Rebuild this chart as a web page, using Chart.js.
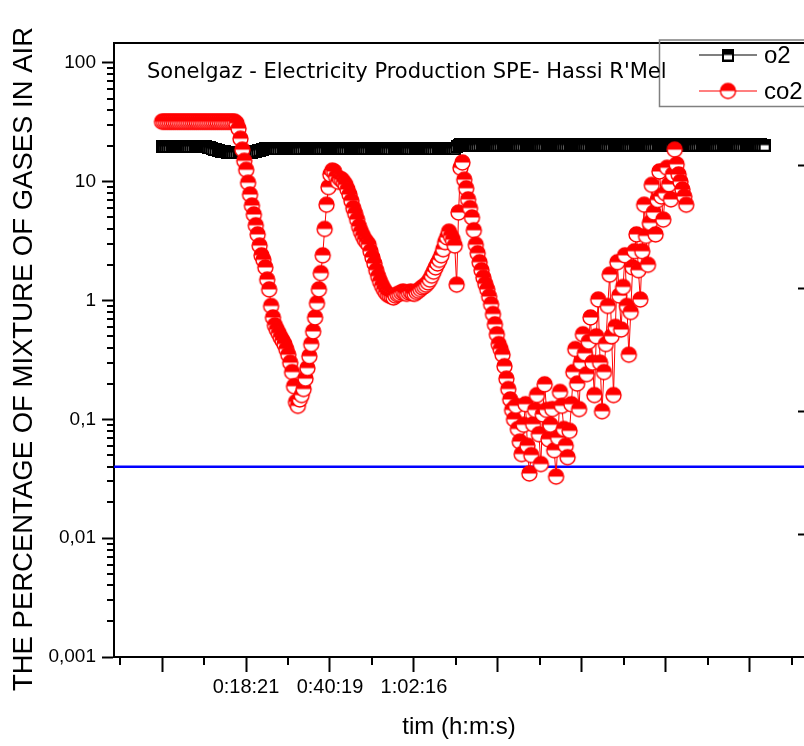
<!DOCTYPE html>
<html>
<head>
<meta charset="utf-8">
<script src="https://cdn.jsdelivr.net/npm/chart.js@4.4.1/dist/chart.umd.min.js"></script>
<style>
  html, body { margin: 0; padding: 0; background: #fff; overflow: hidden; }
  canvas { display: block; }
</style>
</head>
<body>
<canvas id="gasChart" width="804" height="746"></canvas>
<script>
// Logger readings, one every 30 s from the start of the record
const SAMPLE_STEP_S = 30;

// O2 (%)
const o2Values = [
  19.8,19.8,19.8,19.8,19.8,19.8,19.8,19.8,19.8,19.8,
  19.8,19.8,19.8,19.8,19.8,19.8,19.8,19.8,19.8,19.8,
  19.8,19.8,19.8,19.8,19.5,19.3,19.0,18.8,18.6,18.4,
  18.2,18.0,17.9,17.8,17.7,17.6,17.6,17.6,17.6,17.6,
  17.6,17.6,17.6,17.6,17.6,17.6,17.6,17.7,17.8,18.0,
  18.2,18.4,18.6,18.8,19.0,19.1,18.9,19.0,19.0,19.1,
  19.0,18.9,19.0,19.1,19.0,19.0,18.9,19.0,19.1,19.0,
  19.0,18.9,19.0,19.0,19.1,19.0,18.9,19.0,19.0,19.1,
  19.0,19.0,18.9,19.0,19.1,19.0,19.0,18.9,19.0,19.0,
  19.1,19.0,18.9,19.0,19.0,19.1,19.0,19.0,18.9,19.0,
  19.0,19.1,19.0,18.9,19.0,19.0,19.1,19.0,19.0,18.9,
  19.0,19.1,19.0,19.0,18.9,19.0,19.0,19.1,19.0,19.0,
  18.9,19.0,19.1,19.0,19.0,18.9,19.0,19.0,19.1,19.0,
  19.0,18.9,19.0,19.1,19.0,19.0,18.9,19.0,19.0,19.1,
  19.0,19.0,18.9,19.0,19.1,19.0,19.0,18.9,19.0,19.0,
  19.1,19.0,19.0,19.0,19.8,20.3,20.4,20.3,20.2,20.3,
  20.3,20.4,20.3,20.3,20.2,20.3,20.4,20.3,20.3,20.2,
  20.3,20.3,20.4,20.3,20.2,20.3,20.3,20.4,20.3,20.3,
  20.2,20.3,20.4,20.3,20.3,20.2,20.3,20.3,20.4,20.3,
  20.3,20.2,20.3,20.4,20.3,20.3,20.2,20.3,20.3,20.4,
  20.3,20.3,20.2,20.3,20.4,20.3,20.3,20.2,20.3,20.3,
  20.4,20.3,20.3,20.2,20.3,20.4,20.3,20.3,20.2,20.3,
  20.3,20.4,20.3,20.3,20.2,20.3,20.4,20.3,20.3,20.2,
  20.3,20.3,20.4,20.3,20.2,20.3,20.3,20.4,20.3,20.3,
  20.2,20.3,20.4,20.3,20.3,20.2,20.3,20.3,20.4,20.3,
  20.3,20.2,20.3,20.4,20.3,20.3,20.2,20.3,20.3,20.4,
  20.3,20.3,20.2,20.3,20.4,20.3,20.3,20.2,20.3,20.3,
  20.4,20.3,20.3,20.2,20.3,20.4,20.3,20.3,20.2,20.3,
  20.3,20.4,20.3,20.3,20.2,20.3,20.4,20.3,20.3,20.2,
  20.3,20.3,20.4,20.3,20.2,20.3,20.3,20.4,20.3,20.3,
  20.2,20.3,20.4,20.3,20.3,20.2,20.3,20.3,20.4,20.3,
  20.3,20.2,20.3,20.4,20.3,20.3
];

// CO2 (%)
const co2Values = [
  32,32,32,32,32,32,32,32,32,32,
  32,32,32,32,32,32,32,32,32,32,
  32,32,32,32,32,32,32,32,32,32,
  32,32,32,32,32,32,32,32,32,31,
  28,23,18.6,15,12.6,9.8,7.8,6.3,5.3,4.3,
  3.6,2.9,2.4,2.2,1.9,1.5,1.24,0.9,0.72,0.62,
  0.57,0.53,0.49,0.46,0.43,0.39,0.35,0.3,0.25,0.19,
  0.14,0.13,0.147,0.16,0.18,0.22,0.27,0.34,0.43,0.55,
  0.72,0.95,1.24,1.7,2.4,4.0,6.4,9.0,11.5,12.4,
  12.2,11,10,10.6,10.4,9.9,9.4,8.6,7.8,6.9,
  6.0,5.4,4.8,4.2,3.8,3.5,3.25,3.1,2.95,2.6,
  2.3,2.05,1.8,1.6,1.45,1.33,1.24,1.17,1.12,1.1,
  1.08,1.06,1.1,1.13,1.14,1.17,1.19,1.16,1.14,1.17,
  1.19,1.15,1.14,1.18,1.21,1.25,1.29,1.32,1.36,1.42,
  1.5,1.62,1.75,1.9,2.05,2.2,2.4,2.7,3.1,3.4,
  3.8,3.5,3.25,2.9,1.36,5.5,13.1,14.5,10.4,8.8,
  7.1,6.0,5.0,3.9,2.95,2.5,2.1,1.8,1.56,1.38,
  1.24,1.08,0.93,0.77,0.63,0.52,0.43,0.39,0.35,0.28,
  0.22,0.18,0.147,0.12,0.1,0.13,0.083,0.065,0.051,0.09,
  0.134,0.06,0.035,0.05,0.091,0.12,0.16,0.075,0.042,0.11,
  0.197,0.12,0.068,0.09,0.122,0.055,0.033,0.07,0.17,0.13,
  0.083,0.06,0.048,0.08,0.134,0.25,0.39,0.2,0.122,0.3,
  0.52,0.36,0.24,0.45,0.72,0.3,0.16,0.5,1.02,0.3,
  0.117,0.25,0.43,0.9,1.65,0.5,0.16,0.6,2.1,1.1,
  0.57,1.3,2.4,0.9,0.35,0.8,1.9,2.6,3.6,1.8,
  1.02,2.6,6.4,3.5,2.0,4.5,9.4,5.5,3.6,7.0,
  12.2,7.5,4.8,8.0,13.1,9.5,7.1,11.5,18.6,14.0,
  11.5,10.0,8.6,7.5,6.4
];

// CO2 level of ordinary air (%)
const airCo2Level = 0.04;

// x axis: seconds since the first reading
const xMajorTicks = [0, 1317, 2634, 3951, 5268, 6585, 7902, 9219];
const xTickLabels = ['', '0:18:21', '0:40:19', '1:02:16', '', '', '', ''];
const xMinorTicks = [-658, 658, 1976, 3292, 4610, 5926, 7244, 8560, 9878];

// y axis (log)
const yMajorTicks = [0.001, 0.01, 0.1, 1, 10, 100];
const yTickLabels = ['0,001', '0,01', '0,1', '1', '10', '100'];
const yMinorTicks = [];
yMajorTicks.slice(0, -1).forEach(d => {
  for (let m = 2; m <= 9; m++) yMinorTicks.push(+(d * m).toPrecision(3));
});

// ticks of the right-hand frame axis
const rightFrameTicks = [1, 2, 3, 4];

const X_MIN = -753, X_MAX = 10067;
const Y_MIN = 0.001, Y_MAX = 147;

const FONT = "'Liberation Sans', Arial, sans-serif";
const Y_TITLE = 'THE PERCENTAGE OF MIXTURE OF GASES IN AIR';

// half-filled markers: upper half solid, lower half white
function halfCircle(color, r, lw) {
  const s = Math.ceil(2 * r + lw + 2);
  const c = document.createElement('canvas');
  c.width = c.height = s;
  const g = c.getContext('2d');
  const m = s / 2;
  g.fillStyle = '#fff';
  g.beginPath(); g.arc(m, m, r, 0, Math.PI * 2); g.fill();
  g.fillStyle = color;
  g.beginPath(); g.arc(m, m, r, Math.PI, Math.PI * 2); g.closePath(); g.fill();
  g.strokeStyle = color; g.lineWidth = lw;
  g.beginPath(); g.arc(m, m, r, 0, Math.PI * 2); g.stroke();
  return c;
}
function halfSquare(color, w, h, lw) {
  const c = document.createElement('canvas');
  c.width = w; c.height = h;
  const g = c.getContext('2d');
  g.fillStyle = '#fff'; g.fillRect(0, 0, w, h);
  g.fillStyle = color; g.fillRect(0, 0, w, h / 2);
  g.strokeStyle = color; g.lineWidth = lw;
  g.strokeRect(lw / 2, lw / 2, w - lw, h - lw);
  return c;
}

const co2Marker = halfCircle('#ff0000', 7.5, 1.4);
const o2Marker = halfSquare('#000000', 12, 13, 2);

const toPoints = vals => vals.map((v, i) => ({ x: i * SAMPLE_STEP_S, y: v }));

const minorTicksPlugin = {
  id: 'minorTicks',
  afterDraw(chart) {
    const { ctx, chartArea: a, scales: { x, y } } = chart;
    ctx.save();
    ctx.strokeStyle = '#000';
    ctx.lineWidth = 2;
    ctx.beginPath();
    xMinorTicks.forEach(v => {
      const px = Math.round(x.getPixelForValue(v));
      ctx.moveTo(px, a.bottom); ctx.lineTo(px, a.bottom + 8);
    });
    yMinorTicks.forEach(v => {
      const py = Math.round(y.getPixelForValue(v));
      ctx.moveTo(a.left - 7, py); ctx.lineTo(a.left, py);
    });
    ctx.stroke();
    ctx.restore();
  }
};

const yTitlePlugin = {
  id: 'yTitle',
  afterDraw(chart) {
    const ctx = chart.ctx;
    ctx.save();
    ctx.translate(24, 359);
    ctx.rotate(-Math.PI / 2);
    ctx.fillStyle = '#000';
    ctx.font = '27.5px ' + FONT;
    ctx.textAlign = 'center';
    ctx.textBaseline = 'middle';
    ctx.fillText(Y_TITLE, 0, 0);
    ctx.restore();
  }
};

const legendPlugin = {
  id: 'seriesLegend',
  afterDraw(chart) {
    const ctx = chart.ctx;
    ctx.save();
    ctx.strokeStyle = '#808080';
    ctx.lineWidth = 1.5;
    ctx.beginPath();
    ctx.moveTo(810, 40); ctx.lineTo(659.5, 40); ctx.lineTo(659.5, 106.5); ctx.lineTo(810, 106.5);
    ctx.stroke();
    const rows = [
      { ds: chart.data.datasets[0], y: 55 },
      { ds: chart.data.datasets[1], y: 91 }
    ];
    rows.forEach(r => {
      ctx.strokeStyle = r.ds.borderColor;
      ctx.lineWidth = 1.2;
      ctx.beginPath(); ctx.moveTo(699, r.y); ctx.lineTo(757, r.y); ctx.stroke();
      const img = r.ds.pointStyle;
      ctx.drawImage(img, 728 - img.width / 2, r.y - img.height / 2);
      ctx.fillStyle = '#000';
      ctx.font = '24px ' + FONT;
      ctx.textBaseline = 'middle';
      ctx.textAlign = 'left';
      ctx.fillText(r.ds.label, 764, r.y + 1);
    });
    ctx.restore();
  }
};

const titlePlugin = {
  id: 'plotTitle',
  afterDraw(chart) {
    const ctx = chart.ctx;
    ctx.save();
    ctx.fillStyle = '#000';
    ctx.font = "21px 'DejaVu Sans', sans-serif";
    ctx.textBaseline = 'alphabetic';
    ctx.textAlign = 'left';
    ctx.fillText("Sonelgaz - Electricity Production SPE- Hassi R'Mel", 147, 78);
    ctx.restore();
  }
};

new Chart(document.getElementById('gasChart'), {
  type: 'line',
  data: {
    datasets: [
      {
        label: 'o2',
        data: toPoints(o2Values),
        borderColor: '#000000',
        backgroundColor: '#000000',
        borderWidth: 1,
        pointStyle: o2Marker,
        pointRadius: 6,
        order: 1
      },
      {
        label: 'co2',
        data: toPoints(co2Values),
        borderColor: '#ff0000',
        backgroundColor: '#ff0000',
        borderWidth: 1,
        pointStyle: co2Marker,
        pointRadius: 7.5,
        order: 0
      },
      {
        label: 'air',
        data: [{ x: X_MIN, y: airCo2Level }, { x: X_MAX, y: airCo2Level }],
        borderColor: '#0000ff',
        borderWidth: 2.5,
        pointRadius: 0,
        order: 2
      }
    ]
  },
  options: {
    responsive: false,
    animation: false,
    events: [],
    layout: { autoPadding: false, padding: { top: 43, left: 0, right: 0, bottom: 0 } },
    plugins: { legend: { display: false }, tooltip: { enabled: false }, title: { display: false } },
    scales: {
      x: {
        type: 'linear',
        position: 'bottom',
        min: X_MIN,
        max: X_MAX,
        afterBuildTicks: s => { s.ticks = xMajorTicks.map(v => ({ value: v })); },
        afterFit: s => { s.height = 746 - 657; },
        ticks: {
          autoSkip: false,
          maxRotation: 0,
          padding: 3,
          color: '#000',
          font: { family: FONT, size: 20 },
          callback: (v, i) => xTickLabels[i]
        },
        grid: { drawOnChartArea: false, tickLength: 15, tickWidth: 2, tickColor: '#000' },
        border: { color: '#000', width: 2 },
        title: {
          display: true,
          text: 'tim (h:m:s)',
          color: '#000',
          font: { family: FONT, size: 24 },
          padding: { top: 0, bottom: 4 }
        }
      },
      xTop: {
        type: 'linear',
        position: 'top',
        min: X_MIN,
        max: X_MAX,
        afterFit: s => { s.height = 0; },
        ticks: { display: false },
        grid: { display: false },
        border: { color: '#000', width: 2 }
      },
      y: {
        type: 'logarithmic',
        position: 'left',
        min: Y_MIN,
        max: Y_MAX,
        afterBuildTicks: s => { s.ticks = yMajorTicks.map(v => ({ value: v, major: true })); },
        afterFit: s => { s.width = 114; },
        ticks: {
          autoSkip: false,
          padding: 6,
          color: '#000',
          font: { family: FONT, size: 19 },
          callback: (v, i) => yTickLabels[i]
        },
        grid: { drawOnChartArea: false, tickLength: 12, tickWidth: 2, tickColor: '#000' },
        border: { color: '#000', width: 2 }
      },
      yRight: {
        type: 'linear',
        position: 'right',
        min: 0,
        max: 5,
        afterBuildTicks: s => { s.ticks = rightFrameTicks.map(v => ({ value: v })); },
        afterFit: s => { s.width = 0; },
        ticks: { display: false },
        grid: { drawOnChartArea: false, tickLength: -6, tickWidth: 2, tickColor: '#000' },
        border: { display: false }
      }
    }
  },
  plugins: [minorTicksPlugin, yTitlePlugin, legendPlugin, titlePlugin]
});
</script>
</body>
</html>
